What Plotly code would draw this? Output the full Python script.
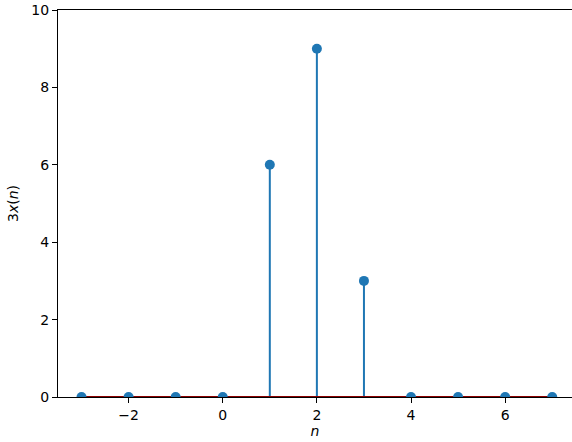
import plotly.graph_objects as go

n = [-3, -2, -1, 0, 1, 2, 3, 4, 5, 6, 7]
y3x = [0, 0, 0, 0, 6, 9, 3, 0, 0, 0, 0]
xticks = [-2, 0, 2, 4, 6]
xticklabels = ["\u22122", "0", "2", "4", "6"]
yticks = [0, 2, 4, 6, 8, 10]

blue = "#1f77b4"
stem_x, stem_y = [], []
for xi, yi in zip(n, y3x):
    stem_x += [xi, xi, None]
    stem_y += [0, yi, None]

fig = go.Figure()
fig.add_trace(go.Scatter(x=stem_x, y=stem_y, mode="lines",
                         line=dict(color=blue, width=2), hoverinfo="skip"))
fig.add_trace(go.Scatter(x=[n[0], n[-1]], y=[0, 0], mode="lines",
                         line=dict(color="#8b0000", width=2), hoverinfo="skip"))
fig.add_trace(go.Scatter(x=n, y=y3x, mode="markers",
                         marker=dict(color=blue, size=10), cliponaxis=True))

font = dict(family="DejaVu Sans", size=14, color="black")
fig.update_layout(
    width=572, height=442,
    margin=dict(l=58, r=0, t=10, b=45),
    paper_bgcolor="white", plot_bgcolor="white",
    showlegend=False, font=font,
    xaxis=dict(range=[-3.5, 7.42], tickvals=xticks, ticktext=xticklabels,
               showgrid=False, zeroline=False, showline=True, linecolor="black",
               linewidth=1, mirror=True, ticks="outside", ticklen=5,
               tickcolor="black", title=dict(text="<i>n</i>", standoff=4, font=font)),
    yaxis=dict(range=[0, 10], tickvals=yticks, showgrid=False, zeroline=False,
               showline=True, linecolor="black", linewidth=1, ticks="outside",
               ticklen=5, tickcolor="black",
               title=dict(text="3<i>x</i>(<i>n</i>)", standoff=9, font=font)),
)
fig.write_html("out.html", config={"displayModeBar": False},
               post_script="document.body.style.margin='0';document.body.style.overflow='hidden';")
